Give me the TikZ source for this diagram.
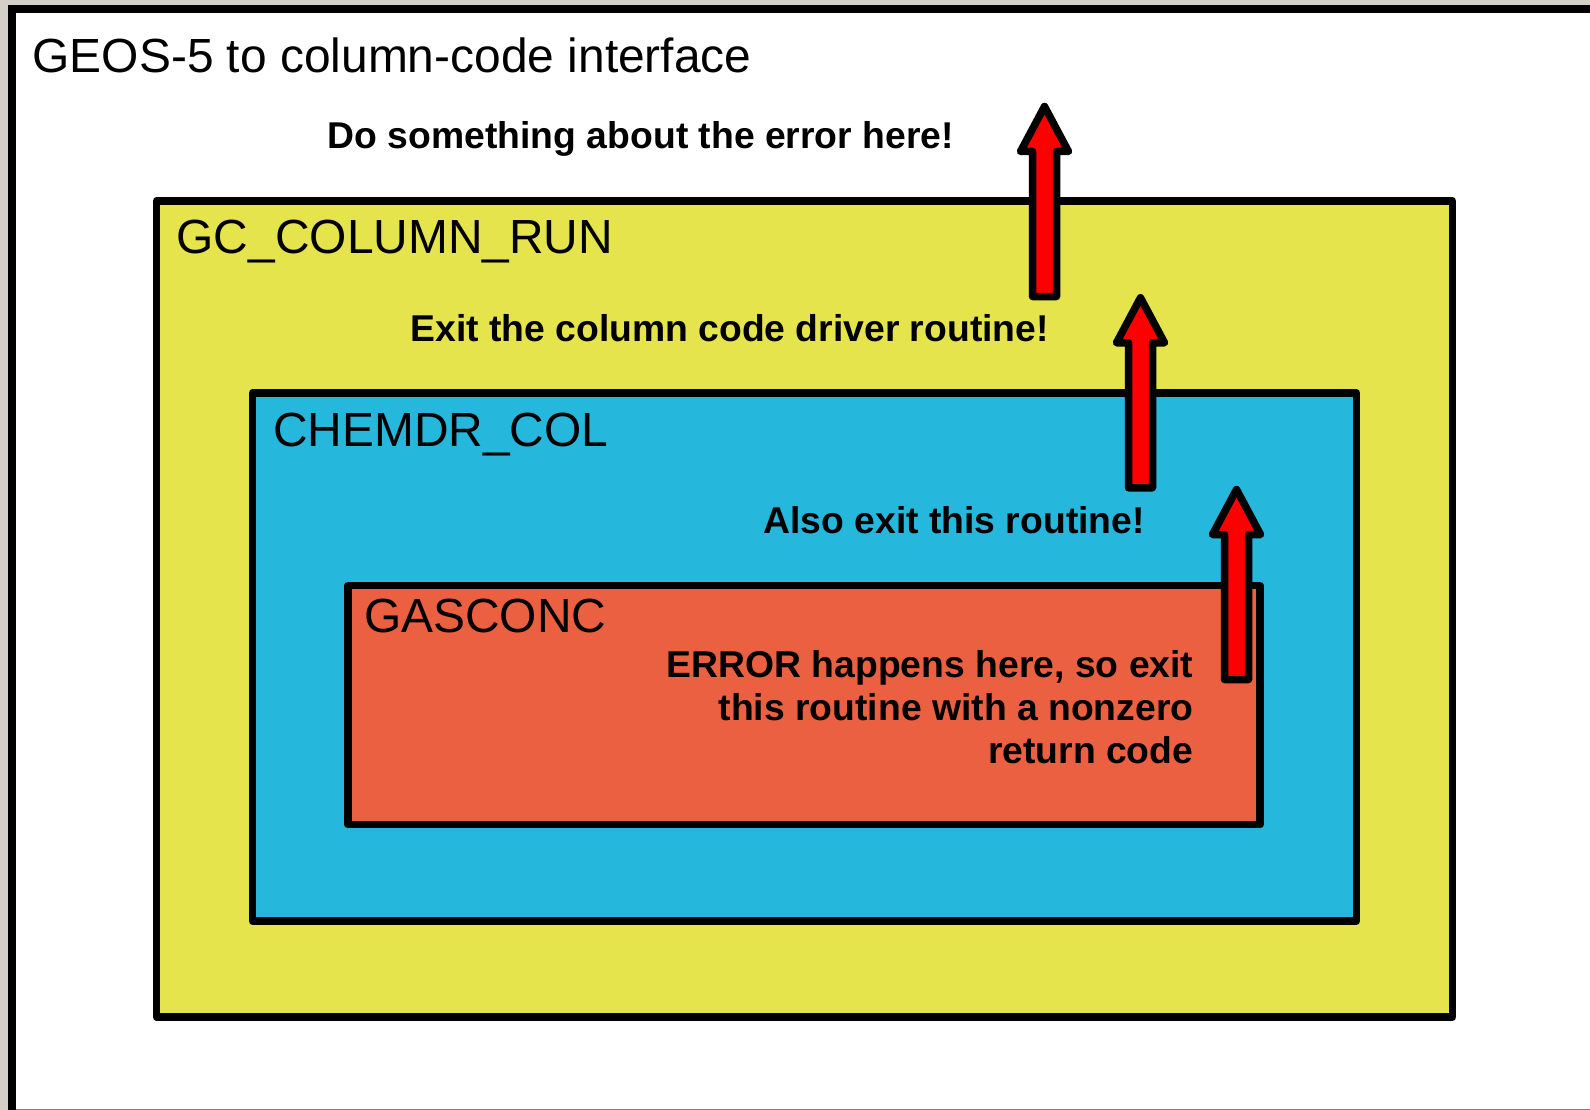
\documentclass[tikz,border=0pt]{standalone}
\usepackage{fontspec}
\setmainfont{Liberation Sans}
\definecolor{bggray}{RGB}{212,208,200}
\definecolor{gcyellow}{RGB}{230,228,76}
\definecolor{chemblue}{RGB}{37,183,220}
\definecolor{gasred}{RGB}{235,96,64}
\definecolor{arrowred}{RGB}{255,0,0}
\begin{document}
\begin{tikzpicture}[x=1pt,y=-1pt,
  box/.style={draw=black, line width=7.5pt, line join=round, inner sep=0pt, outer sep=0pt, anchor=north west},
  boxlabel/.style={anchor=base west, inner sep=0pt, font=\fontsize{47.9}{50}\selectfont},
  note/.style={anchor=base east, inner sep=0pt, font=\fontsize{37.3}{43}\selectfont\bfseries, align=right},
  blockarrow/.style={draw=black, fill=arrowred, line width=7.5pt, line join=round},
  uparrow/.pic={\draw[blockarrow] (0,0) -- (24,45) -- (12,45) -- (12,190) -- (-12,190) -- (-12,45) -- (-24,45) -- cycle;}]
\useasboundingbox (0,0) rectangle (1590,1110);
\fill[bggray] (0,0) rectangle (1590,1110);
\begin{scope}
  \clip (0,0) rectangle (1590,1110);
  \draw[fill=white, line width=7.7pt] (12,8.8) rectangle (1640,1160);
\end{scope}
\draw[gray, line width=1pt] (16,1109.5) -- (1590,1109.5);
\node[boxlabel] (title) at (32.5,73) {GEOS-5 to column-code interface};
\node[box, fill=gcyellow, minimum width=1296pt, minimum height=816pt] (gc) at (156.5,201) {};
\node[box, fill=chemblue, minimum width=1104pt, minimum height=528pt] (chem) at (252.5,393) {};
\node[box, fill=gasred, minimum width=912pt, minimum height=239pt] (gas) at (348,585.5) {};
\node[boxlabel] (gclab) at (176.5,254) {GC\_COLUMN\_RUN};
\node[boxlabel] (chemlab) at (272.8,446) {CHEMDR\_COL};
\node[boxlabel] (gaslab) at (364,632.5) {GASCONC};
\node[note] (n1) at (954,149) {Do something about the error here!};
\node[note] (n2) at (1049,341) {Exit the column code driver routine!};
\node[note] (n3) at (1145,533) {Also exit this routine!};
\node[note] (n4) at (1193.5,763) {ERROR happens here, so exit\\this routine with a nonzero\\return code};
\pic at (1044.5,106.5) {uparrow};
\pic at (1140.5,297.75) {uparrow};
\pic at (1236.5,489.5) {uparrow};
\end{tikzpicture}
\end{document}
